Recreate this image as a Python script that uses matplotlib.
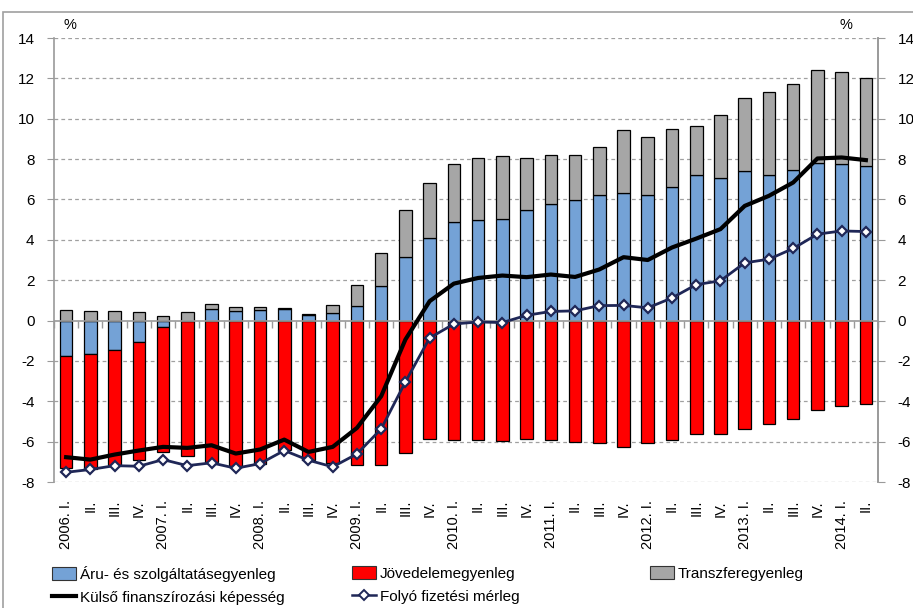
import numpy as np
import matplotlib
matplotlib.use("Agg")
import matplotlib.pyplot as plt
from matplotlib.patches import Rectangle
from matplotlib.lines import Line2D

# ---------------- data ----------------
quarters = ["2006. I.", "II.", "III.", "IV.",
            "2007. I.", "II.", "III.", "IV.",
            "2008. I.", "II.", "III.", "IV.",
            "2009. I.", "II.", "III.", "IV.",
            "2010. I.", "II.", "III.", "IV.",
            "2011. I.", "II.", "III.", "IV.",
            "2012. I.", "II.", "III.", "IV.",
            "2013. I.", "II.", "III.", "IV.",
            "2014. I.", "II."]

goods_services = [-1.77, -1.68, -1.45, -1.07, -0.31, 0.00, 0.58, 0.48,
                  0.53, 0.58, 0.25, 0.35, 0.73, 1.70, 3.14, 4.10,
                  4.86, 5.00, 5.05, 5.47, 5.78, 5.95, 6.21, 6.31,
                  6.23, 6.64, 7.20, 7.05, 7.43, 7.20, 7.47, 7.80,
                  7.75, 7.66]
income = [-5.55, -5.67, -5.72, -5.85, -6.18, -6.71, -7.00, -7.23,
          -7.09, -6.40, -6.89, -7.05, -7.14, -7.14, -6.56, -5.86,
          -5.90, -5.90, -5.96, -5.86, -5.90, -6.00, -6.06, -6.29,
          -6.05, -5.91, -5.63, -5.63, -5.35, -5.12, -4.89, -4.41,
          -4.23, -4.15]
transfers = [0.51, 0.45, 0.45, 0.41, 0.23, 0.40, 0.25, 0.21,
             0.16, 0.05, 0.08, 0.44, 1.02, 1.65, 2.36, 2.72,
             2.90, 3.03, 3.09, 2.56, 2.43, 2.23, 2.40, 3.14,
             2.84, 2.84, 2.46, 3.13, 3.59, 4.10, 4.26, 4.62,
             4.57, 4.38]
net_lending = [-6.77, -6.89, -6.64, -6.44, -6.26, -6.31, -6.18, -6.59,
               -6.39, -5.90, -6.51, -6.26, -5.32, -3.75, -0.94, 0.96,
               1.83, 2.11, 2.23, 2.15, 2.28, 2.16, 2.53, 3.14,
               3.00, 3.62, 4.06, 4.53, 5.68, 6.18, 6.84, 8.03,
               8.08, 7.95]
current_account = [-7.52, -7.38, -7.19, -7.22, -6.89, -7.19, -7.05, -7.32,
                   -7.09, -6.44, -6.92, -7.25, -6.61, -5.37, -3.04, -0.86,
                   -0.17, -0.07, -0.10, 0.26, 0.45, 0.48, 0.74, 0.75,
                   0.63, 1.12, 1.78, 1.97, 2.86, 3.04, 3.57, 4.28,
                   4.44, 4.41]

labels = ["Áru- és szolgáltatásegyenleg", "Jövedelemegyenleg", "Transzferegyenleg",
          "Külső finanszírozási képesség", "Folyó fizetési mérleg"]

# ---------------- style ----------------
C_BLUE = "#74A2D6"
C_RED = "#FF0000"
C_GREY = "#A6A6A6"
C_NAVY = "#1F2757"
C_AX = "#9A9A9A"

plt.rcParams["font.family"] = ["Liberation Sans", "DejaVu Sans"]

fig = plt.figure(figsize=(9.13, 6.08), dpi=100)
ax = fig.add_axes([54 / 913, 1 - 482 / 608, (878 - 54) / 913, (482 - 38) / 608])

x = np.arange(len(quarters))
gs = np.array(goods_services)
inc = np.array(income)
tr = np.array(transfers)

gs_pos = np.where(gs > 0, gs, 0)
gs_neg = np.where(gs < 0, gs, 0)

w = 0.52
kw = dict(width=w, edgecolor="black", linewidth=0.9, zorder=3)
ax.bar(x, gs, color=C_BLUE, **kw)
ax.bar(x, inc, bottom=gs_neg, color=C_RED, **kw)
ax.bar(x, tr, bottom=gs_pos, color=C_GREY, **kw)

ax.plot(x, net_lending, color="black", lw=3, zorder=5, solid_joinstyle="round")
ax.plot(x, current_account, color=C_NAVY, lw=2, marker="D", markersize=5.5,
        markerfacecolor="white", markeredgecolor=C_NAVY, markeredgewidth=1.6, zorder=6)

ax.set_xlim(-0.5, len(quarters) - 0.5)
ax.set_ylim(-8, 14)
yt = np.arange(-8, 15, 2)
ax.set_yticks(yt)
ax.set_yticklabels([str(v) for v in yt], fontsize=11)
ax.tick_params(axis="y", direction="out", length=5, color=C_AX, pad=9)

# gridlines
for v in yt:
    if v != 0:
        ax.axhline(v, color="#A0A0A0", lw=0.9, ls=(0, (3, 2.5)), zorder=1)
ax.axhline(0, color=C_AX, lw=1.2, zorder=4)

# x tick labels
ax.set_xticks(x)
ax.set_xticklabels(quarters, rotation=90, fontsize=10.5, va="top")
ax.tick_params(axis="x", length=0, pad=13)

for s in ["top", "bottom"]:
    ax.spines[s].set_visible(False)
for s in ["left", "right"]:
    ax.spines[s].set_color(C_AX)
    ax.spines[s].set_linewidth(1.2)

# category boundary ticks on the zero line
sec = ax.secondary_xaxis(8 / 22)
sec.set_xticks(np.arange(len(quarters) + 1) - 0.5)
sec.set_xticklabels([])
sec.tick_params(axis="x", direction="out", length=5, color=C_AX, width=1)
sec.spines["bottom"].set_visible(False)

# right axis
ax2 = ax.twinx()
ax2.set_ylim(-8, 14)
ax2.set_yticks(yt)
ax2.set_yticklabels([str(v) for v in yt], fontsize=11)
ax2.tick_params(axis="y", direction="out", length=5, color=C_AX, pad=9)
for s in ["top", "bottom", "left"]:
    ax2.spines[s].set_visible(False)
ax2.spines["right"].set_color(C_AX)
ax2.spines["right"].set_linewidth(1.2)

# % labels
fig.text(63 / 913, 1 - 25 / 608, "%", fontsize=10.5, ha="left", va="center")
fig.text(852 / 913, 1 - 25 / 608, "%", fontsize=10.5, ha="right", va="center")

# outer frame
fig.patches.append(Rectangle((3 / 913, -0.1), 1.2, 1 - 12 / 608 + 0.1,
                             transform=fig.transFigure, fill=False,
                             edgecolor="#A0A0A0", lw=1.2))

# legends (three columns)
h_blue = Rectangle((0, 0), 1, 1, facecolor=C_BLUE, edgecolor="#333333", lw=0.8)
h_red = Rectangle((0, 0), 1, 1, facecolor=C_RED, edgecolor="#333333", lw=0.8)
h_grey = Rectangle((0, 0), 1, 1, facecolor=C_GREY, edgecolor="#333333", lw=0.8)
h_black = Line2D([], [], color="black", lw=3)
h_navy = Line2D([], [], color=C_NAVY, lw=1.8, marker="D", markersize=5,
                markerfacecolor="white", markeredgecolor=C_NAVY, markeredgewidth=1.4)

leg_kw = dict(frameon=False, prop={"size": 11},
              handlelength=1.6, handleheight=0.9, handletextpad=0.2,
              labelspacing=0.55, borderaxespad=0, borderpad=0,
              loc="upper left")
cols = [([h_blue, h_black], [labels[0], labels[3]], 52),
        ([h_red, h_navy], [labels[1], labels[4]], 352),
        ([h_grey], [labels[2]], 650)]
for hs, ls, px in cols:
    fig.legend(hs, ls, bbox_to_anchor=(px / 913, 1 - 566 / 608), **leg_kw)

fig.savefig("out.png", dpi=100)
